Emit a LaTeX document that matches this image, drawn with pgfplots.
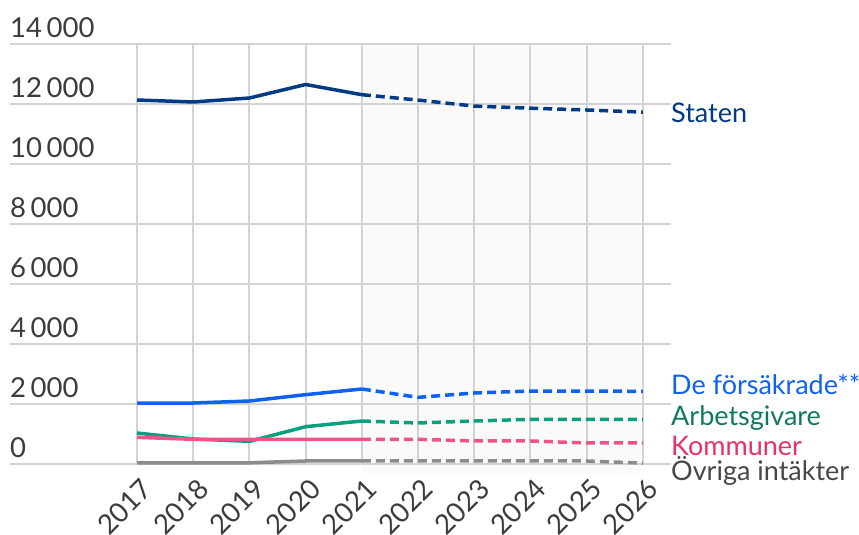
\documentclass[border=0pt]{standalone}
\usepackage{fontspec}
\setmainfont{Lato}
\usepackage{pgfplots}
\pgfplotsset{compat=1.18}
\definecolor{staten}{HTML}{003B84}
\definecolor{forsak}{HTML}{0F62F0}
\definecolor{arbets}{HTML}{0AA07E}
\definecolor{arbetstxt}{HTML}{0E7B5E}
\definecolor{kommun}{HTML}{F0528A}
\definecolor{kommuntxt}{HTML}{E8306A}
\definecolor{ovriga}{HTML}{8C8C8C}
\definecolor{ovrigatxt}{HTML}{474747}
\definecolor{gridc}{HTML}{D3D3D3}
\definecolor{shade}{HTML}{FAFAFA}
\definecolor{ticktxt}{HTML}{3C3C3C}
\begin{document}
\begin{tikzpicture}
\begin{axis}[
  set layers,
  scale only axis, width=661bp, height=420bp,
  xmin=2014.74, xmax=2026.5, ymin=0, ymax=14000,
  clip=false,
  axis line style={draw=none},
  major tick length=0pt,
  scaled y ticks=false,
  xtick={2017,2018,2019,2020,2021,2022,2023,2024,2025,2026},
  xticklabels={2017,2018,2019,2020,2021,2022,2023,2024,2025,2026},
  ytick={0,2000,4000,6000,8000,10000,12000,14000},
  grid=major,
  major grid style={gridc, line width=2bp},
  /pgf/number format/.cd, 1000 sep={\,}, assume math mode=true,
  /pgfplots/.cd,
  yticklabel style={font=\fontsize{27.5bp}{32bp}\selectfont, text=ticktxt, anchor=south west, inner sep=0pt, xshift=0bp, yshift=6bp},
  xticklabel style={font=\fontsize{27.5bp}{32bp}\selectfont, text=ticktxt, xshift=3bp, yshift=-13bp, rotate=45, anchor=north east, inner sep=0pt},
  every axis plot/.append style={line width=3.5bp, line join=round},
  fc/.style={dash pattern=on 9bp off 5bp},
]
\addplot[fill=shade, draw=none, on layer=axis background] coordinates {(2021,-300) (2025.95,-300) (2025.95,14000) (2021,14000)} -- cycle;

% Staten
\addplot[staten] coordinates {(2017,12133) (2018,12067) (2019,12200) (2020,12650) (2021,12310)};
\addplot[staten, fc] coordinates {(2021,12310) (2022,12130) (2023,11930) (2024,11860) (2025,11800) (2026,11730)};
% De forsakrade
\addplot[forsak] coordinates {(2017,2033) (2018,2033) (2019,2100) (2020,2311) (2021,2500)};
\addplot[forsak, fc] coordinates {(2021,2500) (2022,2222) (2023,2367) (2024,2433) (2025,2433) (2026,2422)};
% Arbetsgivare
\addplot[arbets] coordinates {(2017,1033) (2018,833) (2019,756) (2020,1244) (2021,1433)};
\addplot[arbets, fc] coordinates {(2021,1433) (2022,1367) (2023,1433) (2024,1489) (2025,1489) (2026,1489)};
% Kommuner
\addplot[kommun] coordinates {(2017,889) (2018,822) (2019,822) (2020,822) (2021,822)};
\addplot[kommun, fc] coordinates {(2021,822) (2022,822) (2023,767) (2024,767) (2025,700) (2026,700)};
% Ovriga
\addplot[ovriga] coordinates {(2017,40) (2018,40) (2019,40) (2020,100) (2021,100)};
\addplot[ovriga, fc] coordinates {(2021,100) (2022,100) (2023,100) (2024,100) (2025,100) (2026,30)};

\begin{scope}[every node/.style={anchor=base west, inner sep=0pt, font=\fontsize{27bp}{32bp}\selectfont}]
\node[text=staten] at (axis cs:2026.5,11377) {Staten};
\node[text=forsak] at (axis cs:2026.5,2300) {De försäkrade**};
\node[text=arbetstxt] at (axis cs:2026.5,1300) {Arbetsgivare};
\node[text=kommuntxt] at (axis cs:2026.5,277) {Kommuner};
\node[text=ovrigatxt] at (axis cs:2026.5,-557) {Övriga intäkter};
\end{scope}
\end{axis}
\pgfresetboundingbox
\useasboundingbox (-10bp,-71bp) rectangle (849bp,464bp);
\end{tikzpicture}
\end{document}
